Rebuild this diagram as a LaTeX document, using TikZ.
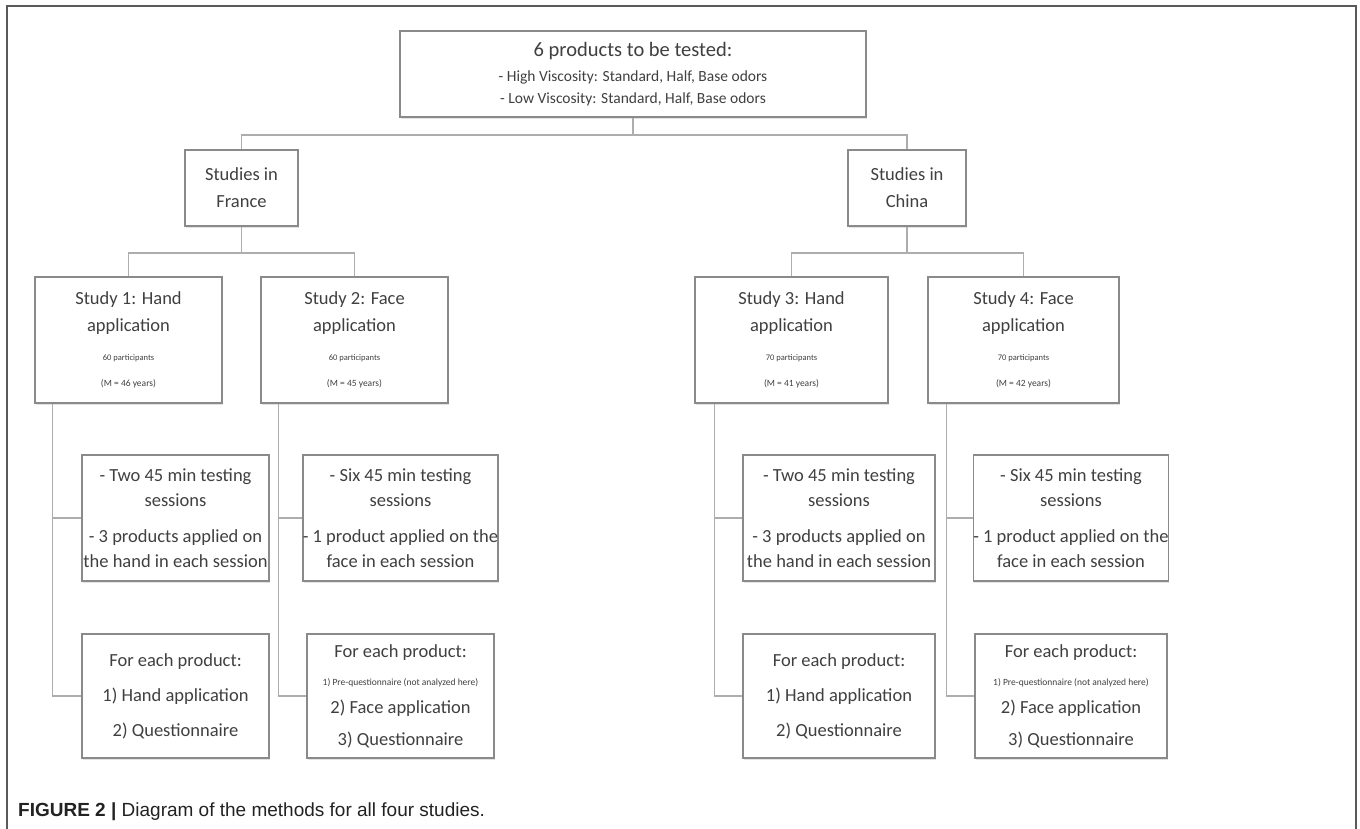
\documentclass[tikz,border=0pt]{standalone}
\usepackage{fontspec}
\setmainfont{Carlito}
\newfontfamily\capfont{Liberation Sans}
\usetikzlibrary{calc,shadows}
\definecolor{boxline}{HTML}{8A8A8A}
\definecolor{wirecol}{HTML}{ADADAD}
\definecolor{ink}{HTML}{404040}
\definecolor{frameline}{HTML}{5A5A5A}
\definecolor{capink}{HTML}{222222}

\begin{document}
\begin{tikzpicture}[x=1pt,y=-1pt,
  box/.style={draw=boxline, line width=1.6pt, fill=white, align=center,
    text=ink, inner sep=0pt, font=\fontsize{18.5}{27}\selectfont,
    drop shadow={shadow xshift=0.8pt, shadow yshift=-1.6pt, opacity=0.22}},
  studybox/.style={box, minimum width=#1, minimum height=126pt},
  procbox/.style={box, minimum width=#1, minimum height=124pt},
  wire/.style={draw=wirecol, line width=1.4pt}
]
\useasboundingbox (0,0) rectangle (1360,829);

% outer frame (open at the bottom)
\draw[frameline, line width=1.5pt] (7,829) -- (7,6) -- (1356,6) -- (1356,829);

% top level
\node[box, minimum width=466pt, minimum height=86pt] (top) at (633,74)
  {{\fontsize{20.5}{25}\selectfont 6 products to be tested:}\\[-2pt]
   {\fontsize{15.5}{22}\selectfont - High Viscosity: Standard, Half, Base odors}\\[-5pt]
   {\fontsize{15.5}{22}\selectfont - Low Viscosity: Standard, Half, Base odors}};

% countries
\node[box, minimum width=113pt, minimum height=76pt] (fr) at (241.5,188) {Studies in\\France};
\node[box, minimum width=118pt, minimum height=76pt] (cn) at (907,188) {Studies in\\China};

% studies
\node[studybox=187pt] (s1) at (128.5,340)
  {Study 1: Hand\\application\\[2pt]{\fontsize{8.5}{10}\selectfont 60 participants}\\[-1pt]{\fontsize{9.5}{10}\selectfont (M = 46 years)}};
\node[studybox=187pt] (s2) at (354.5,340)
  {Study 2: Face\\application\\[2pt]{\fontsize{8.5}{10}\selectfont 60 participants}\\[-1pt]{\fontsize{9.5}{10}\selectfont (M = 45 years)}};
\node[studybox=193pt] (s3) at (791.5,340)
  {Study 3: Hand\\application\\[2pt]{\fontsize{8.5}{10}\selectfont 70 participants}\\[-1pt]{\fontsize{9.5}{10}\selectfont (M = 41 years)}};
\node[studybox=191pt] (s4) at (1023.5,340)
  {Study 4: Face\\application\\[2pt]{\fontsize{8.5}{10}\selectfont 70 participants}\\[-1pt]{\fontsize{9.5}{10}\selectfont (M = 42 years)}};

% testing sessions
\node[studybox=187pt] (t1) at (175.5,518)
  {- Two 45 min testing\\[-2pt]sessions\\[9pt]- 3 products applied on\\[-2pt]the hand in each session};
\node[studybox=187pt] (t2) at (400.5,518)
  {- Six 45 min testing\\[-2pt]sessions\\[9pt]- 1 product applied on the\\[-2pt]face in each session};
\node[studybox=192pt] (t3) at (839,518)
  {- Two 45 min testing\\[-2pt]sessions\\[9pt]- 3 products applied on\\[-2pt]the hand in each session};
\node[studybox=192pt] (t4) at (1071,518)
  {- Six 45 min testing\\[-2pt]sessions\\[9pt]- 1 product applied on the\\[-2pt]face in each session};

% per-product procedure
\node[procbox=187pt] (p1) at (175.5,696)
  {For each product:\\[8pt]1) Hand application\\[8pt]2) Questionnaire};
\node[procbox=187pt] (p2) at (400.5,696)
  {For each product:\\[1pt]{\fontsize{9.5}{10}\selectfont 1) Pre-questionnaire (not analyzed here)}\\[1pt]2) Face application\\[5pt]3) Questionnaire};
\node[procbox=192pt] (p3) at (839,696)
  {For each product:\\[8pt]1) Hand application\\[8pt]2) Questionnaire};
\node[procbox=192pt] (p4) at (1071,696)
  {For each product:\\[1pt]{\fontsize{9.5}{10}\selectfont 1) Pre-questionnaire (not analyzed here)}\\[1pt]2) Face application\\[5pt]3) Questionnaire};

% tree connectors
\coordinate (j0) at (633,135);
\draw[wire] (top.south) -- (j0);
\draw[wire] (fr.north) |- (j0) -| (cn.north);

\coordinate (jf) at (241.5,253);
\draw[wire] (fr.south) -- (jf);
\draw[wire] (s1.north) |- (jf) -| (s2.north);

\coordinate (jc) at (907,253);
\draw[wire] (cn.south) -- (jc);
\draw[wire] (s3.north) |- (jc) -| (s4.north);

% side rails from each study to its two boxes
\foreach \s/\t/\p/\d in {s1/t1/p1/18, s2/t2/p2/18, s3/t3/p3/20, s4/t4/p4/19}{
  \coordinate (r\s) at ($(\s.south west)+(\d,0)$);
  \draw[wire] (r\s) |- (\p.west);
  \draw[wire] (\t.west) -- (\t.west -| r\s);
}

% caption
\node[anchor=base west, inner sep=0pt, text=capink, font=\capfont\fontsize{19}{22}\selectfont] (cap) at (18,816)
  {\textbf{FIGURE 2 |} Diagram of the methods for all four studies.};
\end{tikzpicture}
\end{document}
